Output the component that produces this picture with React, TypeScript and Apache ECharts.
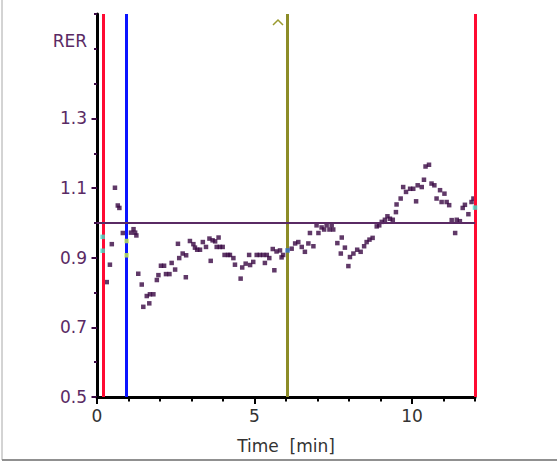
import React, { useEffect, useRef } from 'react';
import * as echarts from 'echarts';

// Time [min] and RER readings
const timeMin = [
  0.31, 0.41, 0.47, 0.57, 0.66, 0.71, 0.82, 1.08, 1.16, 1.21, 1.25, 1.31, 1.42, 1.47, 1.58, 1.66, 1.68, 1.79,
  1.9, 1.95, 2.03, 2.13, 2.19, 2.3, 2.37, 2.48, 2.57, 2.61, 2.72, 2.82, 2.83, 2.95, 3.06, 3.11, 3.18, 3.27,
  3.36, 3.46, 3.57, 3.61, 3.67, 3.75, 3.8, 3.86, 3.9, 3.99, 4.05, 4.16, 4.22, 4.33, 4.38, 4.56, 4.61, 4.72,
  4.83, 4.86, 4.96, 5.07, 5.17, 5.28, 5.33, 5.39, 5.47, 5.58, 5.63, 5.7, 5.81, 5.86, 5.91, 6.18, 6.29, 6.39,
  6.5, 6.6, 6.71, 6.76, 6.87, 6.97, 7.03, 7.13, 7.21, 7.29, 7.38, 7.45, 7.5, 7.63, 7.74, 7.77, 7.87, 7.98,
  8.03, 8.14, 8.26, 8.37, 8.48, 8.56, 8.65, 8.75, 8.88, 8.96, 9.04, 9.14, 9.22, 9.3, 9.39, 9.49, 9.51, 9.64,
  9.72, 9.81, 9.94, 10.04, 10.13, 10.18, 10.31, 10.38, 10.43, 10.54, 10.62, 10.71, 10.78, 10.89, 10.94,
  11.03, 11.1, 11.18, 11.26, 11.37, 11.42, 11.52, 11.61, 11.68, 11.79, 11.89, 11.95,
];
const rer = [
  0.83, 0.88, 0.939, 1.101, 1.05, 1.043, 0.971, 0.972, 0.982, 0.972, 0.964, 0.854, 0.823, 0.759, 0.79, 0.769, 0.795, 0.795,
  0.836, 0.85, 0.877, 0.877, 0.853, 0.853, 0.885, 0.866, 0.94, 0.899, 0.912, 0.844, 0.907, 0.948, 0.939, 0.929, 0.923, 0.923,
  0.945, 0.931, 0.955, 0.891, 0.95, 0.947, 0.931, 0.958, 0.931, 0.931, 0.908, 0.908, 0.908, 0.899, 0.88, 0.84, 0.872, 0.883,
  0.908, 0.879, 0.888, 0.908, 0.908, 0.908, 0.885, 0.908, 0.899, 0.925, 0.864, 0.918, 0.921, 0.901, 0.908, 0.926, 0.941, 0.945,
  0.931, 0.917, 0.941, 0.971, 0.933, 0.993, 0.971, 0.987, 0.981, 0.993, 0.981, 0.993, 0.981, 0.942, 0.912, 0.958, 0.929, 0.876,
  0.902, 0.912, 0.923, 0.917, 0.933, 0.945, 0.952, 0.957, 0.99, 0.993, 1.003, 1.009, 1.019, 1.012, 1.009, 1.031, 1.053, 1.07,
  1.103, 1.089, 1.098, 1.098, 1.062, 1.108, 1.103, 1.124, 1.162, 1.167, 1.113, 1.108, 1.07, 1.094, 1.06,
  1.084, 1.06, 1.051, 1.008, 0.971, 1.009, 1.005, 1.043, 1.052, 1.025, 1.06, 1.07,
];

// cursor readouts
const cyanTime = [0.18, 0.18, 12];
const cyanRer = [0.96, 0.92, 1.044];
const greenTime = [0.94, 0.94];
const greenRer = [0.948, 0.907];
const blueTime = [6.05];
const blueRer = [0.921];

// axes
const yMajorTicks = [0.5, 0.7, 0.9, 1.1, 1.3];
const xMajorTicks = [0, 5, 10];
const cursorTimes = [0.19, 0.94, 6.05, 12];
const cursorColors = ['#ff0a32', '#0a14ff', '#8c8c28', '#ff0a32'];
const refRer = 1.0;

const zip = (xs: number[], ys: number[]) => xs.map((x, i) => [x, ys[i]]);

export default function App() {
  const ref = useRef<HTMLDivElement>(null);
  useEffect(() => {
    const chart = echarts.init(ref.current!, null, { renderer: 'svg' });
    const font = 'DejaVu Sans';
    const purple = '#5a2a64';
    const option: any = {
      animation: false,
      backgroundColor: '#ffffff',
      textStyle: { fontFamily: font },
      grid: { left: 97, right: 82, top: 14, bottom: 72, containLabel: false },
      xAxis: [
        {
          type: 'value', min: 0, max: 12, interval: 5,
          name: 'Time  [min]', nameLocation: 'middle', nameGap: 40,
          nameTextStyle: { fontSize: 17, color: '#333333', fontFamily: font },
          axisLine: { show: true, onZero: false, lineStyle: { color: '#000', width: 3 } },
          axisTick: { show: true, length: 7, customValues: xMajorTicks, lineStyle: { color: '#000', width: 2 } },
          axisLabel: { show: true, customValues: xMajorTicks, fontSize: 17, color: '#333333', margin: 10, fontFamily: font },
          splitLine: { show: false },
        },
        {
          type: 'value', min: 0, max: 12, interval: 1, position: 'bottom',
          axisLine: { show: false },
          axisTick: { show: true, length: 4.5, lineStyle: { color: '#000', width: 2 } },
          axisLabel: { show: false },
          splitLine: { show: false },
        },
      ],
      yAxis: [
        {
          type: 'value', min: 0.5, max: 1.6, interval: 0.2,
          axisLine: { show: true, onZero: false, lineStyle: { color: '#000', width: 3 } },
          axisTick: { show: true, length: 5.5, customValues: yMajorTicks, lineStyle: { color: '#3c0a46', width: 2 } },
          axisLabel: {
            show: true, customValues: yMajorTicks, fontSize: 17, color: purple, margin: 10, fontFamily: font,
            formatter: (v: number) => v.toFixed(1),
          },
          splitLine: { show: false },
        },
        {
          type: 'value', min: 0.5, max: 1.6, interval: 0.1, position: 'left',
          axisLine: { show: false },
          axisTick: { show: true, length: 3, lineStyle: { color: '#3c0a46', width: 2 } },
          axisLabel: { show: false },
          splitLine: { show: false },
        },
      ],
      graphic: [
        { type: 'line', shape: { x1: 2, y1: 0, x2: 2, y2: 460 }, style: { stroke: '#a8a8a8', lineWidth: 1 }, silent: true },
        { type: 'line', shape: { x1: 2, y1: 460, x2: 557, y2: 460 }, style: { stroke: '#909090', lineWidth: 2 }, silent: true },
        {
          type: 'text', x: 87, y: 41, silent: true,
          style: { text: 'RER', fill: purple, fontSize: 17, fontFamily: font, align: 'right', verticalAlign: 'middle', textAlign: 'right', textVerticalAlign: 'middle' },
        },
        { type: 'polyline', shape: { points: [[273, 25], [278, 20], [283, 25]] }, style: { stroke: '#9a9a30', lineWidth: 1.5, fill: 'none' }, silent: true },
      ],
      series: [
        {
          type: 'scatter', xAxisIndex: 0, yAxisIndex: 0, z: 2,
          data: [],
          markLine: {
            silent: true, symbol: ['none', 'none'], label: { show: false },
            data: [
              ...cursorTimes.map((t, i) => ({ xAxis: t, lineStyle: { color: cursorColors[i], width: 3, type: 'solid' } })),
              { yAxis: refRer, lineStyle: { color: purple, width: 2, type: 'solid' } },
            ],
          },
        },
        {
          type: 'scatter', xAxisIndex: 0, yAxisIndex: 0, z: 4,
          symbol: 'rect', symbolSize: 4.5,
          itemStyle: { color: '#380842' },
          data: zip(timeMin, rer),
        },
        {
          type: 'scatter', xAxisIndex: 0, yAxisIndex: 0, z: 5, symbol: 'rect', symbolSize: 4.5,
          itemStyle: { color: '#40e0c8' }, data: zip(cyanTime, cyanRer),
        },
        {
          type: 'scatter', xAxisIndex: 0, yAxisIndex: 0, z: 5, symbol: 'rect', symbolSize: 4.5,
          itemStyle: { color: '#c8f050' }, data: zip(greenTime, greenRer),
        },
        {
          type: 'scatter', xAxisIndex: 0, yAxisIndex: 0, z: 5, symbol: 'rect', symbolSize: 4.5,
          itemStyle: { color: '#3070d0' }, data: zip(blueTime, blueRer),
        },
      ],
    };
    chart.setOption(option);
    return () => chart.dispose();
  }, []);
  return <div ref={ref} style={{ position: 'absolute', left: 0, top: 0, width: 557, height: 469 }} />;
}
